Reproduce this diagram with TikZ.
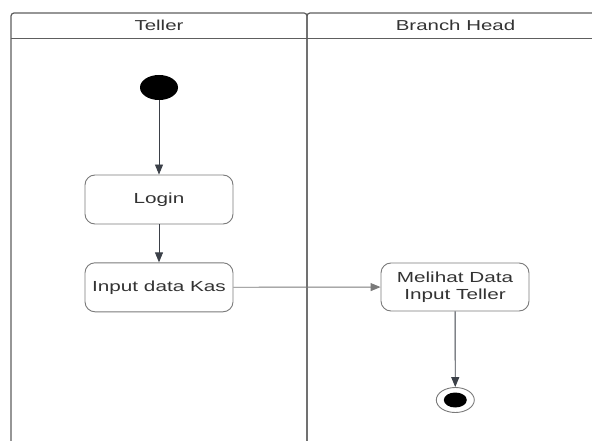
\documentclass[tikz,border=0pt]{standalone}
\usepackage{fontspec}
\setmainfont{Liberation Sans}[FakeStretch=1.42]
\usetikzlibrary{arrows.meta,shapes.geometric}
\definecolor{lanecol}{HTML}{5E5E5E}
\definecolor{boxcol}{HTML}{7A7A7A}
\definecolor{txtcol}{HTML}{333333}
\definecolor{arrcol}{HTML}{3B4048}
\tikzset{
  lane/.style={draw=lanecol, line width=1.2pt, rounded corners=3pt},
  action/.style={draw=boxcol, line width=0.9pt, rounded corners=10pt, minimum width=148pt, minimum height=49pt, inner sep=0pt, align=center, text=txtcol, font=\fontsize{14.6}{16.7}\selectfont},
  lanetitle/.style={text=txtcol, font=\fontsize{14.4}{16}\selectfont, inner sep=0pt},
  flow/.style={draw=arrcol, line width=0.9pt, -{Triangle[width=8pt,length=10pt]}},
  startnode/.style={ellipse, fill=black, minimum width=38pt, minimum height=25pt, inner sep=0pt},
  endring/.style={ellipse, draw=boxcol, line width=0.9pt, fill=white, minimum width=38pt, minimum height=25pt, inner sep=0pt},
  enddot/.style={ellipse, fill=black, minimum width=23pt, minimum height=15pt, inner sep=0pt}
}
\begin{document}
\begin{tikzpicture}[x=1pt,y=-1pt]
\useasboundingbox (0,0) rectangle (592,441);
\fill[white] (0,0) rectangle (592,441);
\begin{scope}
\clip (0,0) rectangle (592,441);
\draw[lane] (11,13) rectangle (307,470);
\draw[lane] (307,13) rectangle (604,470);
\draw[draw=lanecol, line width=1.2pt] (11,38.7) -- (604,38.7);
\end{scope}
\node[lanetitle] (t1) at (159,25.5) {Teller};
\node[lanetitle] (t2) at (455.5,25.5) {Branch Head};
\node[startnode] (start) at (159,87.5) {};
\node[action] (login) at (159,199.5) {Login};
\node[action] (input) at (159,287.3) {Input data Kas};
\node[action, minimum height=48pt] (lihat) at (455,287) {Melihat Data\\Input Teller};
\node[endring] (end) at (455.3,400) {};
\node[enddot] (enddot) at (455.3,400) {};
\draw[flow] (start) -- (login);
\draw[flow] (login) -- (input);
\draw[flow, draw=boxcol] (input) -- (lihat);
\draw[flow] (lihat) -- (end);
\end{tikzpicture}
\end{document}
